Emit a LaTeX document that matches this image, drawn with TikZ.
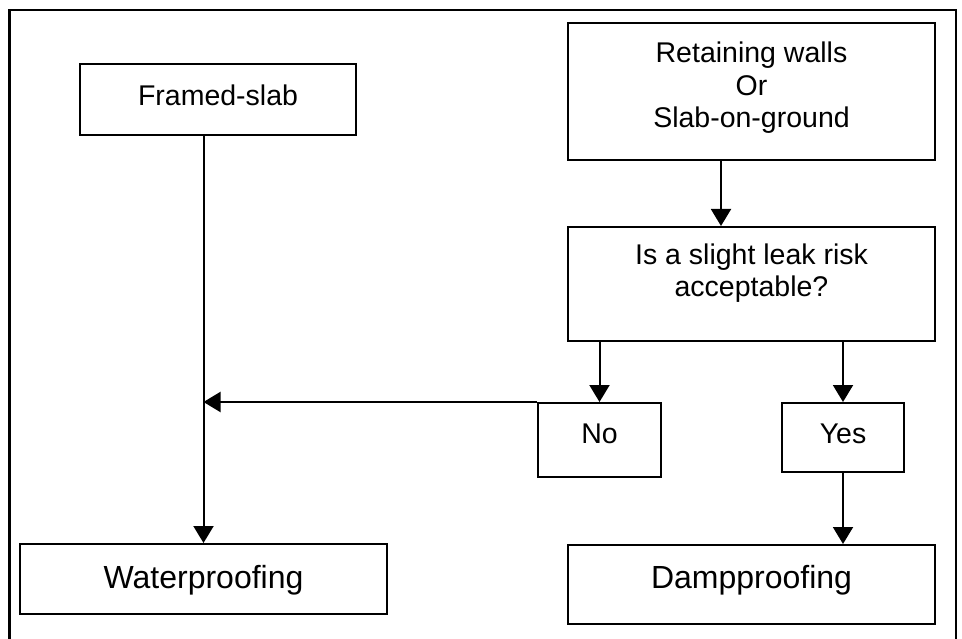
\documentclass[tikz,border=0pt]{standalone}
\usepackage{fontspec}
\setmainfont{Liberation Sans}
\usepackage{tikz}
\usetikzlibrary{arrows.meta,positioning,calc}

\begin{document}
\begin{tikzpicture}[
                x=1pt, y=-1pt,
                every node/.style={inner sep=0pt},
                box/.style={draw=black, line width=2pt, align=center, font=\fontsize{28.5}{32.5}\selectfont},
                bigbox/.style={box, font=\fontsize{32}{36}\selectfont},
                arr/.style={line width=2pt, -{Triangle[length=17pt, width=20pt]}}
            ]
                % Page size and outer frame
                \useasboundingbox (0,0) rectangle (962,639);
                \draw[line width=2.2pt] (9.5,639) -- (9.5,10) -- (956,10) -- (956,639);
                
                % Left column
                \node[box, minimum width=276pt, minimum height=71pt, text height=13pt, text depth=0pt] (fs) at (218, 99.5) {Framed-slab};
                \node[bigbox, minimum width=367pt, minimum height=70pt, text height=18pt, text depth=0pt] (wp) at (203.5, 579) {Waterproofing};
                
                % Right column
                \node[box, minimum width=367pt, minimum height=137pt, text height=73pt, text depth=0pt] (rw) at (751.5, 91.5) {Retaining walls \\ Or \\ Slab-on-ground};
                \node[box, minimum width=367pt, minimum height=114pt, text height=25.4pt, text depth=0pt] (q) at (751.5, 284) {Is a slight leak risk \\ acceptable?};
                \node[box, minimum width=123pt, minimum height=74pt, text height=6pt, text depth=0pt] (no) at (599.5, 440) {No};
                \node[box, minimum width=122pt, minimum height=69pt, text height=11pt, text depth=0pt] (yes) at (843, 437.5) {Yes};
                \node[bigbox, minimum width=367pt, minimum height=79pt, text height=7pt, text depth=0pt] (dp) at (751.5, 584.5) {Dampproofing};
                
                % Connectors
                \coordinate (rwout) at ([xshift=-30.5pt]rw.south);
                \draw[arr] (fs.south -| wp.north) -- (wp.north);
                \draw[arr] (rwout) -- (rwout |- q.north);
                \draw[arr] (q.south -| no.north) -- (no.north);
                \draw[arr] (q.south -| yes.north) -- (yes.north);
                \draw[arr] (yes.south) -- (yes.south |- dp.north);
                \draw[arr] (no.north west) -- (no.north west -| wp.north);
            \end{tikzpicture}
\end{document}
